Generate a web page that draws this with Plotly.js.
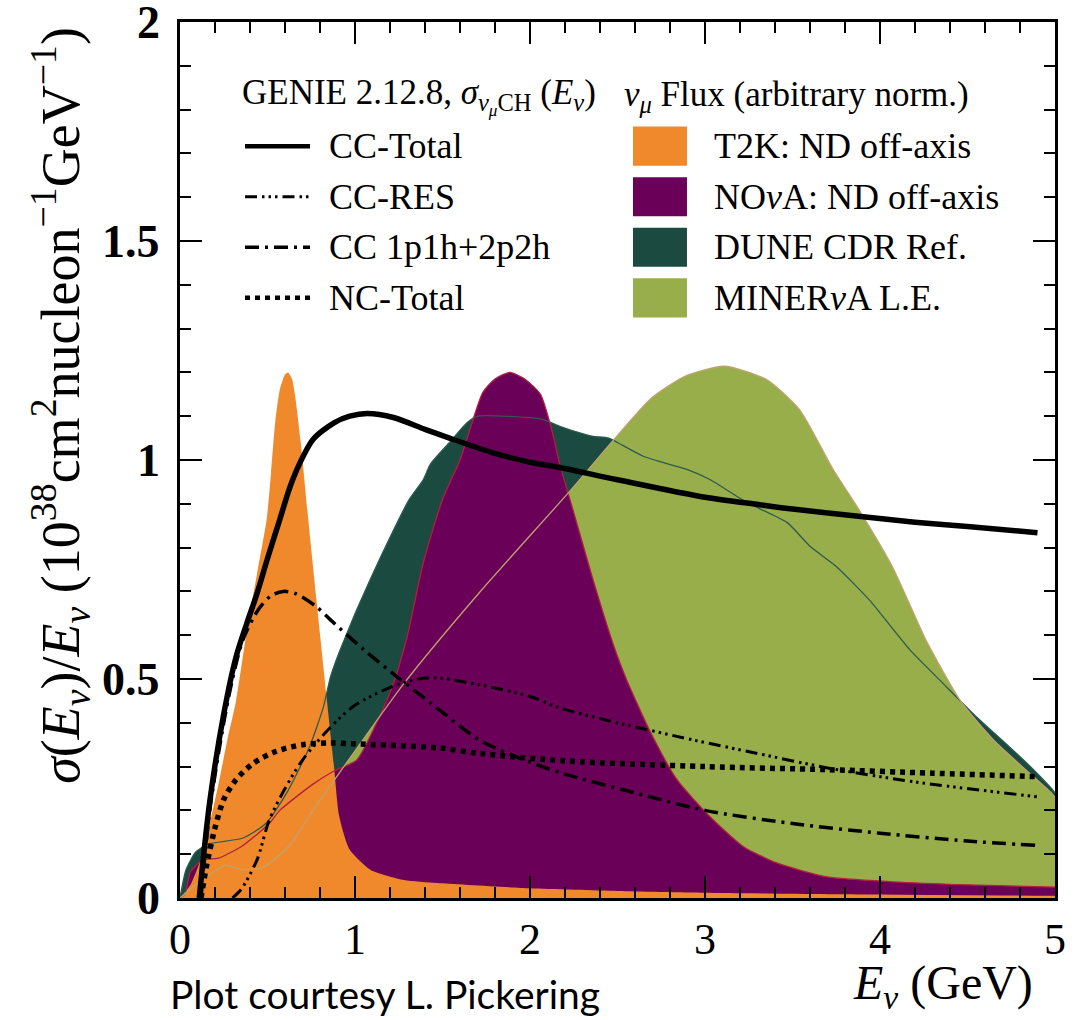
<!DOCTYPE html>
<html><head><meta charset="utf-8">
<script src="https://cdn.plot.ly/plotly-3.0.1.min.js"></script>
<style>body{margin:0;background:#fff}</style>
</head><body><div id="chart" style="width:1079px;height:1020px"></div>
<script>
// ---- flux shapes (arbitrary norm.) ----
const t2kE  = [0, 0.06, 0.12, 0.17, 0.22, 0.27, 0.32, 0.38, 0.44, 0.495, 0.52, 0.545, 0.57, 0.6, 0.617, 0.64, 0.66, 0.69, 0.733, 0.78, 0.84, 0.88, 0.91, 0.97, 1.09, 1.28, 1.47, 2.0, 2.5, 3.0, 4.0, 5.0];
const t2kV  = [0, 0.03, 0.09, 0.17, 0.26, 0.36, 0.45, 0.605, 0.74, 0.864, 0.97, 1.09, 1.16, 1.195, 1.2, 1.185, 1.14, 1.04, 0.864, 0.68, 0.45, 0.3, 0.186, 0.11, 0.064, 0.041, 0.034, 0.022, 0.016, 0.012, 0.008, 0.005];
const novaE = [0, 0.03, 0.06, 0.13, 0.22, 0.36, 0.51, 0.57, 0.76, 0.88, 1.01, 1.14, 1.22, 1.3, 1.39, 1.5, 1.6, 1.73, 1.8, 1.886, 1.97, 2.06, 2.13, 2.17, 2.25, 2.36, 2.48, 2.55, 2.69, 2.84, 3.03, 3.22, 3.41, 3.7, 4.07, 4.5, 5.0];
const novaV = [0, 0.01, 0.06, 0.087, 0.091, 0.12, 0.17, 0.2, 0.26, 0.29, 0.315, 0.414, 0.49, 0.6, 0.765, 0.91, 1.0, 1.154, 1.185, 1.2, 1.185, 1.15, 1.06, 0.99, 0.88, 0.727, 0.574, 0.5, 0.377, 0.27, 0.185, 0.117, 0.08, 0.048, 0.037, 0.03, 0.025];
const duneE = [0, 0.034, 0.09, 0.16, 0.36, 0.49, 0.61, 0.74, 0.82, 0.86, 0.9, 0.97, 1.01, 1.14, 1.31, 1.39, 1.43, 1.54, 1.64, 1.7, 1.85, 2.07, 2.17, 2.3, 2.36, 2.45, 2.5, 2.65, 2.9, 3.03, 3.24, 3.47, 3.6, 3.75, 3.94, 4.17, 4.36, 4.55, 4.74, 4.88, 4.98, 5.0];
const duneV = [0, 0.064, 0.105, 0.123, 0.137, 0.17, 0.24, 0.345, 0.437, 0.505, 0.551, 0.62, 0.658, 0.773, 0.91, 0.955, 0.99, 1.04, 1.085, 1.1, 1.1, 1.093, 1.077, 1.06, 1.054, 1.05, 1.04, 1.008, 0.978, 0.955, 0.903, 0.857, 0.803, 0.757, 0.68, 0.567, 0.49, 0.414, 0.345, 0.292, 0.25, 0.24];
const minE  = [0, 0.09, 0.26, 0.36, 0.48, 0.62, 0.76, 0.91, 1.28, 1.71, 2.23, 2.48, 2.69, 2.88, 3.11, 3.35, 3.54, 3.73, 3.89, 4.07, 4.27, 4.46, 4.65, 4.84, 4.98, 5.0];
const minV  = [0, 0.03, 0.075, 0.064, 0.071, 0.117, 0.2, 0.285, 0.49, 0.697, 0.93, 1.047, 1.14, 1.19, 1.214, 1.184, 1.115, 0.98, 0.88, 0.757, 0.583, 0.45, 0.36, 0.29, 0.24, 0.23];

// ---- GENIE cross sections sigma/E ----
const ccTotE = [0.11, 0.17, 0.25, 0.32, 0.38, 0.44, 0.5, 0.57, 0.63, 0.686, 0.76, 0.88, 0.97, 1.07, 1.22, 1.4, 1.54, 1.8, 2.0, 2.17, 2.5, 3.0, 3.31, 3.5, 3.89, 4.2, 4.5, 4.9];
const ccTotV = [0, 0.22, 0.42, 0.55, 0.625, 0.695, 0.775, 0.864, 0.94, 0.994, 1.047, 1.085, 1.1, 1.106, 1.097, 1.07, 1.05, 1.015, 0.995, 0.983, 0.955, 0.915, 0.898, 0.888, 0.871, 0.858, 0.848, 0.834];
const ccResE = [0.3, 0.35, 0.44, 0.51, 0.6, 0.7, 0.86, 1.0, 1.24, 1.43, 1.71, 2.0, 2.17, 2.5, 2.93, 3.3, 3.7, 4.2, 4.9];
const ccResV = [0, 0.02, 0.087, 0.178, 0.25, 0.315, 0.39, 0.44, 0.487, 0.503, 0.487, 0.46, 0.434, 0.4, 0.361, 0.33, 0.297, 0.265, 0.231];
const ccQeE  = [0.12, 0.17, 0.25, 0.3, 0.36, 0.45, 0.52, 0.59, 0.66, 0.78, 0.86, 1.05, 1.24, 1.43, 1.71, 2.0, 2.2, 2.6, 3.0, 3.5, 4.0, 4.5, 4.9];
const ccQeV  = [0, 0.2, 0.4, 0.5, 0.59, 0.66, 0.69, 0.70, 0.695, 0.665, 0.635, 0.567, 0.505, 0.446, 0.361, 0.31, 0.283, 0.24, 0.2, 0.17, 0.148, 0.13, 0.12];
const ncTotE = [0.12, 0.15, 0.2, 0.25, 0.32, 0.42, 0.55, 0.7, 0.86, 1.0, 1.47, 1.71, 2.2, 3.0, 3.7, 4.3, 4.9];
const ncTotV = [0, 0.07, 0.16, 0.225, 0.27, 0.308, 0.335, 0.35, 0.354, 0.352, 0.343, 0.33, 0.313, 0.3, 0.293, 0.285, 0.277];

const xsecNames = ['CC-Total', 'CC-RES', 'CC 1p1h+2p2h', 'NC-Total'];
const fluxNames = ['T2K: ND off-axis', 'NO<i>ν</i>A: ND off-axis', 'DUNE CDR Ref.', 'MINER<i>ν</i>A L.E.'];
const xTicks = [0, 1, 2, 3, 4, 5];
const yTicks = [0, 0.5, 1, 1.5, 2];

const SERIF = 'Liberation Serif, DejaVu Serif, serif';
const fluxStyle = {
  'T2K: ND off-axis':        {fill: '#F0892B', edge: '#F0892B'},
  'NO<i>ν</i>A: ND off-axis': {fill: '#6B0058', edge: '#B0203F'},
  'DUNE CDR Ref.':           {fill: '#1B4B40', edge: '#2C5B4E'},
  'MINER<i>ν</i>A L.E.':     {fill: '#97AE4A', edge: '#BFA36E'}
};
const xsecStyle = {
  'CC-Total':     {width: 5.5, dash: 'solid'},
  'CC-RES':       {width: 3,   dash: '12px,5px,2.5px,4px,2.5px,4px,2.5px,5px'},
  'CC 1p1h+2p2h': {width: 3.5, dash: '14px,6px,3px,6px'},
  'NC-Total':     {width: 5.5, dash: '5px,5px'}
};
const fluxData = {
  'T2K: ND off-axis': [t2kE, t2kV],
  'NO<i>ν</i>A: ND off-axis': [novaE, novaV],
  'DUNE CDR Ref.': [duneE, duneV],
  'MINER<i>ν</i>A L.E.': [minE, minV]
};
const xsecData = {
  'CC-Total': [ccTotE, ccTotV],
  'CC-RES': [ccResE, ccResV],
  'CC 1p1h+2p2h': [ccQeE, ccQeV],
  'NC-Total': [ncTotE, ncTotV]
};

const traces = [];
// fills: back to front
['DUNE CDR Ref.', 'MINER<i>ν</i>A L.E.', 'NO<i>ν</i>A: ND off-axis', 'T2K: ND off-axis'].forEach(n => {
  traces.push({x: fluxData[n][0], y: fluxData[n][1], type: 'scatter', mode: 'lines',
    fill: 'tozeroy', fillcolor: fluxStyle[n].fill,
    line: {width: 0, color: fluxStyle[n].fill, shape: 'spline', smoothing: 0.6},
    hoverinfo: 'skip', showlegend: false});
});
// thin outlines drawn over all fills
['DUNE CDR Ref.', 'NO<i>ν</i>A: ND off-axis', 'MINER<i>ν</i>A L.E.'].forEach(n => {
  traces.push({x: fluxData[n][0], y: fluxData[n][1], type: 'scatter', mode: 'lines',
    line: {width: 1.3, color: fluxStyle[n].edge, shape: 'spline', smoothing: 0.6},
    hoverinfo: 'skip', showlegend: false});
});
// cross sections
['NC-Total', 'CC-RES', 'CC 1p1h+2p2h', 'CC-Total'].forEach(n => {
  traces.push({x: xsecData[n][0], y: xsecData[n][1], type: 'scatter', mode: 'lines',
    line: {width: xsecStyle[n].width, dash: xsecStyle[n].dash, color: '#000', shape: 'spline', smoothing: 0.8},
    hoverinfo: 'skip', showlegend: false});
});

// manual two-column legend (paper coords)
const shapes = [];
const annotations = [];
const rowY = [0.8583, 0.8006, 0.7429, 0.6851];
annotations.push({xref: 'paper', yref: 'paper', x: 0.0686, y: 0.9154, xanchor: 'left', yanchor: 'middle', showarrow: false,
  text: 'GENIE 2.12.8, <i>σ</i><sub><i>ν</i><sub><i>μ</i></sub>CH</sub> (<i>E</i><sub><i>ν</i></sub>)', font: {family: SERIF, size: 35, color: '#000'}});
annotations.push({xref: 'paper', yref: 'paper', x: 0.505, y: 0.9154, xanchor: 'left', yanchor: 'middle', showarrow: false,
  text: '<i>ν</i><sub><i>μ</i></sub> Flux (arbitrary norm.)', font: {family: SERIF, size: 35, color: '#000'}});
xsecNames.forEach((n, i) => {
  shapes.push({type: 'line', xref: 'paper', yref: 'paper', x0: 0.0743, x1: 0.1486, y0: rowY[i], y1: rowY[i],
    line: {color: '#000', width: Math.min(xsecStyle[n].width, 4.5), dash: xsecStyle[n].dash}});
  annotations.push({xref: 'paper', yref: 'paper', x: 0.168, y: rowY[i], xanchor: 'left', yanchor: 'middle', showarrow: false,
    text: n, font: {family: SERIF, size: 36, color: '#000'}});
});
fluxNames.forEach((n, i) => {
  shapes.push({type: 'rect', xref: 'paper', yref: 'paper', x0: 0.5177, x1: 0.5794, y0: rowY[i] - 0.0223, y1: rowY[i] + 0.0223,
    fillcolor: fluxStyle[n].fill, line: {width: 0}});
  annotations.push({xref: 'paper', yref: 'paper', x: 0.608, y: rowY[i], xanchor: 'left', yanchor: 'middle', showarrow: false,
    text: n, font: {family: SERIF, size: 36, color: '#000'}});
});
// y tick labels (bold), placed on the y scale
yTicks.forEach(v => {
  annotations.push({xref: 'paper', yref: 'y', x: -0.0206, y: v, xanchor: 'right', yanchor: 'middle', showarrow: false,
    text: String(v), font: {family: SERIF, size: 46, color: '#000', weight: 'bold'}});
});
// axis titles
annotations.push({xref: 'paper', yref: 'paper', x: 0.977, y: -0.1, xanchor: 'right', yanchor: 'middle', showarrow: false,
  text: '<i>E</i><sub><i>ν</i></sub> (GeV)', font: {family: SERIF, size: 48, color: '#000'}});
annotations.push({xref: 'paper', yref: 'paper', x: -0.137, y: 0.562, xanchor: 'center', yanchor: 'middle', showarrow: false, textangle: -90,
  text: '<i>σ</i>(<i>E</i><sub><i>ν</i></sub>)/<i>E</i><sub><i>ν</i></sub> (10<sup>38</sup>cm<sup>2</sup>nucleon<sup>−1</sup>GeV<sup>−1</sup>)',
  font: {family: SERIF, size: 54, color: '#000'}});
annotations.push({xref: 'paper', yref: 'paper', x: -0.0137, y: -0.11, xanchor: 'left', yanchor: 'middle', showarrow: false,
  text: 'Plot courtesy L. Pickering', font: {family: 'Lato, Open Sans, sans-serif', size: 39, color: '#000'}});

const layout = {
  width: 1079, height: 1020,
  margin: {l: 180, r: 24, t: 22, b: 122},
  paper_bgcolor: '#fff', plot_bgcolor: '#fff',
  showlegend: false,
  xaxis: {range: [0, 5], tickvals: xTicks, ticktext: xTicks.map(String), ticks: 'inside', ticklen: 22, tickwidth: 2, tickcolor: '#000',
    showline: true, linewidth: 3, linecolor: '#000', mirror: 'allticks', showgrid: false, zeroline: false,
    minor: {dtick: 0.2, ticks: 'inside', ticklen: 11, tickwidth: 2, tickcolor: '#000', showgrid: false},
    tickfont: {family: SERIF, size: 44, color: '#000'}, fixedrange: true},
  yaxis: {range: [0, 2], tickvals: yTicks, showticklabels: false, ticks: 'inside', ticklen: 22, tickwidth: 2, tickcolor: '#000',
    showline: true, linewidth: 3, linecolor: '#000', mirror: 'allticks', showgrid: false, zeroline: false,
    minor: {dtick: 0.1, ticks: 'inside', ticklen: 11, tickwidth: 2, tickcolor: '#000', showgrid: false},
    fixedrange: true},
  shapes: shapes,
  annotations: annotations
};
Plotly.newPlot('chart', traces, layout, {displayModeBar: false, staticPlot: true});
</script>
</body></html>
